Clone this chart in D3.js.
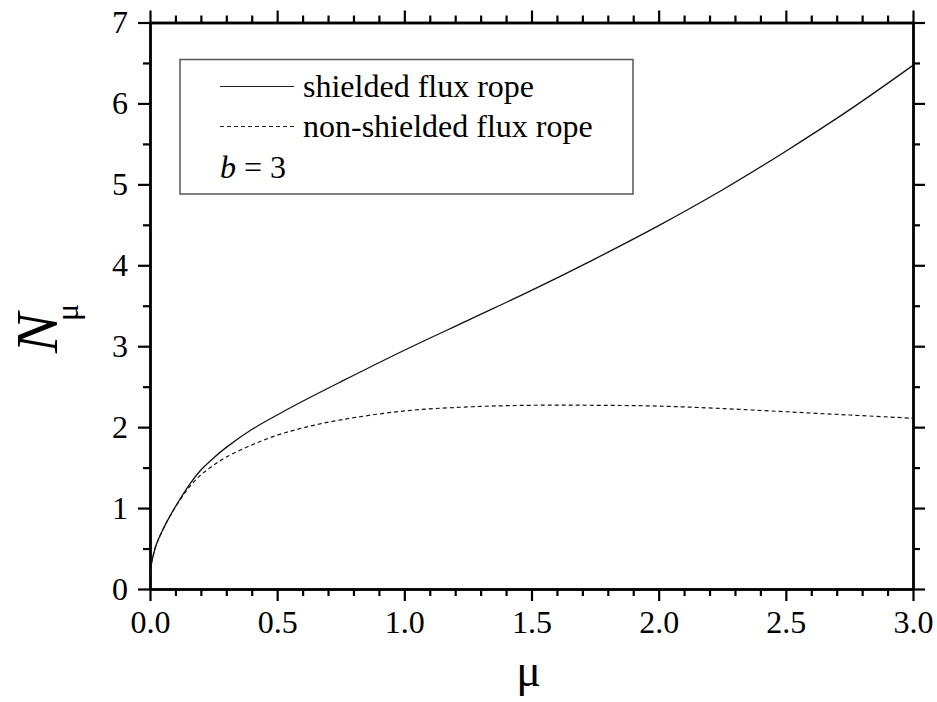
<!DOCTYPE html>
<html>
<head>
<meta charset="utf-8">
<script src="https://cdn.jsdelivr.net/npm/d3@7"></script>
<style>
  body { margin: 0; background: #fff; }
  svg { display: block; }
  svg text { font-family: "Liberation Serif", "Times New Roman", serif; }
</style>
</head>
<body>
<svg id="chart" width="937" height="702"></svg>
<script>
// values (mu, N_mu)
var muValues = [0, 0.005, 0.01, 0.025, 0.05, 0.08, 0.12, 0.16, 0.2, 0.25, 0.3, 0.4, 0.5, 0.6, 0.75,
    1.0, 1.25, 1.5, 1.75, 2.0, 2.25, 2.5, 2.75, 3.0];
var shielded = [0.15, 0.3, 0.38, 0.55, 0.73, 0.91, 1.12, 1.31, 1.47, 1.62, 1.75, 1.97, 2.15, 2.32, 2.56,
    2.95, 3.32, 3.69, 4.08, 4.49, 4.93, 5.41, 5.92, 6.47];
var nonShielded = [0.15, 0.3, 0.38, 0.55, 0.73, 0.91, 1.11, 1.28, 1.41, 1.53, 1.63, 1.78, 1.9, 1.99, 2.09,
    2.2, 2.25, 2.27, 2.27, 2.26, 2.23, 2.19, 2.15, 2.11];
var xMajor = [0, 0.5, 1.0, 1.5, 2.0, 2.5, 3.0];
var yMajor = [0, 1, 2, 3, 4, 5, 6, 7];
var legendLabels = ["shielded flux rope", "non-shielded flux rope"];

var svg = d3.select("#chart"),
    margin = {top: 22.5, right: 24, bottom: 113, left: 150},
    width = 913 - margin.left,
    height = 589 - margin.top,
    g = svg.append("g").attr("transform", "translate(" + margin.left + "," + margin.top + ")");

var x = d3.scaleLinear().domain([0, 3]).range([0, width]);
var y = d3.scaleLinear().domain([0, 7]).range([height, 0]);

var xMinor = d3.range(0, 3.0001, 0.1).filter(function (d) {
    return Math.abs(d * 2 - Math.round(d * 2)) > 1e-6;
});
var yMinor = d3.range(0.5, 7, 1);

function styleAxis(sel) {
    sel.attr("font-family", null).attr("font-size", null);
    sel.selectAll("path.domain").attr("stroke", "#000").attr("stroke-width", 2.4);
    sel.selectAll(".tick line").attr("stroke", "#000").attr("stroke-width", 2.2);
}

// minor ticks first, then major ticks with labels
function addAxis(axisFn, scale, major, minor, transform, labels) {
    g.append("g")
        .attr("transform", transform)
        .call(axisFn(scale).tickValues(minor).tickSize(7).tickSizeOuter(0).tickFormat(""))
        .call(styleAxis);
    var a = g.append("g")
        .attr("transform", transform)
        .call(axisFn(scale).tickValues(major).tickSize(12).tickSizeOuter(0)
            .tickFormat(labels ? labels : ""))
        .call(styleAxis);
    a.selectAll(".tick text")
        .style("font-family", "'Liberation Serif', 'Times New Roman', serif")
        .style("font-size", "32px")
        .attr("fill", "#000");
    return a;
}

var bottom = addAxis(d3.axisBottom, x, xMajor, xMinor, "translate(0," + height + ")", d3.format(".1f"));
bottom.selectAll(".tick text").attr("y", 0).attr("dy", 0).attr("transform", "translate(0,44)");
addAxis(d3.axisTop, x, xMajor, xMinor, "translate(0,0)", null);

var left = addAxis(d3.axisLeft, y, yMajor, yMinor, "translate(0,0)", d3.format("d"));
left.selectAll(".tick text").attr("x", -22).attr("dy", "0.32em");
addAxis(d3.axisRight, y, yMajor, yMinor, "translate(" + width + ",0)", null);

// curves
var line = d3.line()
    .x(function (d) { return x(d[0]); })
    .y(function (d) { return y(d[1]); })
    .curve(d3.curveCatmullRom.alpha(0.5));

g.append("path")
    .datum(muValues.map(function (m, i) { return [m, shielded[i]]; }))
    .attr("fill", "none")
    .attr("stroke", "#111")
    .attr("stroke-width", 1.3)
    .attr("d", line);

g.append("path")
    .datum(muValues.map(function (m, i) { return [m, nonShielded[i]]; }))
    .attr("fill", "none")
    .attr("stroke", "#111")
    .attr("stroke-width", 1.2)
    .attr("stroke-dasharray", "4,3")
    .attr("d", line);

// legend
var legend = svg.append("g");
legend.append("rect")
    .attr("x", 180).attr("y", 59.5)
    .attr("width", 453).attr("height", 134.5)
    .attr("fill", "none")
    .attr("stroke", "#555")
    .attr("stroke-width", 1.5);

var rows = legend.selectAll("g.row")
    .data(legendLabels)
    .enter().append("g")
    .attr("class", "row")
    .attr("transform", function (d, i) { return "translate(0," + (i * 40) + ")"; });

rows.append("line")
    .attr("x1", 220).attr("x2", 294)
    .attr("y1", 86.5).attr("y2", 86.5)
    .attr("stroke", "#222")
    .attr("stroke-width", 1.2)
    .attr("stroke-dasharray", function (d, i) { return i == 1 ? "4,3" : null; });

rows.append("text")
    .attr("x", 303).attr("y", 97)
    .attr("font-size", 32)
    .attr("fill", "#000")
    .text(function (d) { return d; });

var bText = legend.append("text")
    .attr("x", 220).attr("y", 178)
    .attr("font-size", 32)
    .attr("fill", "#000");
bText.append("tspan").attr("font-style", "italic").text("b");
bText.append("tspan").text(" = 3");

// axis titles
var yTitle = svg.append("text")
    .attr("transform", "translate(57,353) rotate(-90)")
    .attr("fill", "#000");
yTitle.append("tspan").attr("font-style", "italic").attr("font-size", 60).text("N");
yTitle.append("tspan").attr("font-size", 32).attr("dy", 21).attr("dx", -8).text("μ");

svg.append("text")
    .attr("x", margin.left + width / 2 - 3)
    .attr("y", 686)
    .attr("text-anchor", "middle")
    .attr("font-size", 46)
    .attr("fill", "#000")
    .text("μ");
</script>
</body>
</html>
